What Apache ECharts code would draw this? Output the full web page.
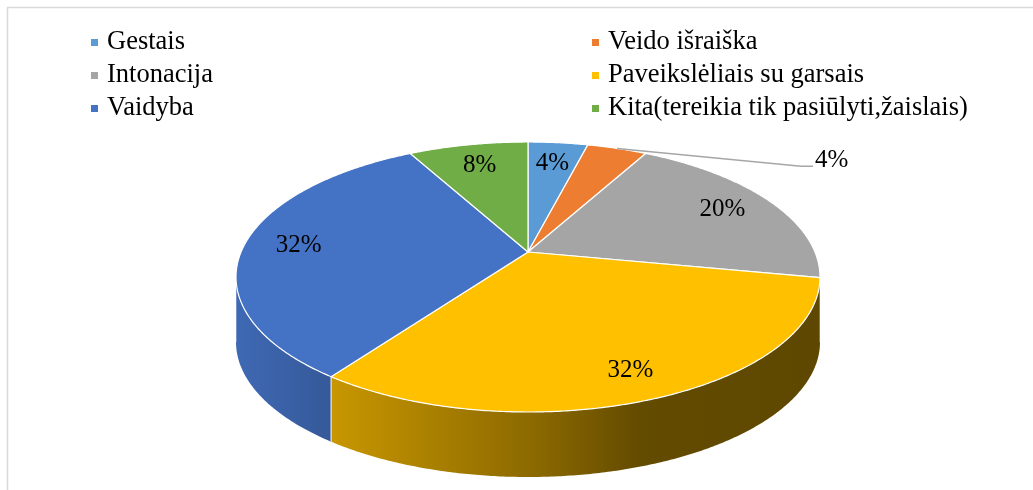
<!DOCTYPE html>
<html>
<head>
<meta charset="utf-8">
<script src="https://cdn.jsdelivr.net/npm/echarts@6/dist/echarts.min.js"></script>
<style>
  html, body { margin: 0; padding: 0; background: #fff; }
  #c { width: 1033px; height: 490px; }
</style>
</head>
<body>
<div id="c"></div>
<script>
const categories = ['Gestais', 'Veido išraiška', 'Intonacija', 'Paveikslėliais su garsais', 'Vaidyba', 'Kita(tereikia tik pasiūlyti,žaislais)']
const values = [4, 4, 20, 32, 32, 8]
const colors = ['#5B9BD5', '#ED7D31', '#A5A5A5', '#FFC000', '#4472C4', '#70AD47']
const outsideLabel = [false, true, false, false, false, false]

// layout of the fake 3d pie (ellipse top face + front wall)
const P = { cx: 528, cy: 277, rx: 292, ry: 135, apexDy: -25, tilt: 0.46, depth: 65, labelR: 0.81 }
const FONT = '25px "Liberation Serif", "Times New Roman", serif'
// side lighting: [offset across pie width, brightness]
const wallLight = [[0, 0.92], [0.166, 0.78], [0.52, 0.54], [0.69, 0.39], [1, 0.37]]

const total = values.reduce((a, b) => a + b, 0)
const cum = values.map((v, i) => values.slice(0, i).reduce((a, b) => a + b, 0))

// ray from the apex at pie angle theta, hit the ellipse rim
function edgePoint(theta) {
  const dx = Math.sin(theta)
  const dy = -Math.cos(theta) * P.tilt
  const py = P.apexDy
  const A = (dx / P.rx) ** 2 + (dy / P.ry) ** 2
  const B = 2 * py * dy / (P.ry * P.ry)
  const C = (py / P.ry) ** 2 - 1
  const s = (-B + Math.sqrt(B * B - 4 * A * C)) / (2 * A)
  return [P.cx + dx * s, P.cy + py + dy * s]
}
function innerPoint(theta, r) {
  const e = edgePoint(theta)
  const ax = P.cx, ay = P.cy + P.apexDy
  return [ax + (e[0] - ax) * r, ay + (e[1] - ay) * r]
}
function shade(hex, f) {
  const n = parseInt(hex.slice(1), 16)
  const r = Math.round(((n >> 16) & 255) * f)
  const g = Math.round(((n >> 8) & 255) * f)
  const b = Math.round((n & 255) * f)
  return `rgb(${r},${g},${b})`
}

function makeSeries(i) {
  return {
    type: 'custom',
    name: categories[i],
    coordinateSystem: 'none',
    itemStyle: { color: colors[i] },
    data: [values[i]],
    renderItem(params, api) {
      const v = api.value(0)
      const start = cum[i] / total * Math.PI * 2
      const end = (cum[i] + v) / total * Math.PI * 2
      const n = Math.max(2, Math.ceil((end - start) / (Math.PI / 360)))
      const arc = []
      for (let k = 0; k <= n; k++) arc.push(edgePoint(start + (end - start) * k / n))
      const apex = [P.cx, P.cy + P.apexDy]
      const children = []

      // front wall
      const front = arc.filter(p => p[1] >= P.cy - 0.3)
      if (front.length > 1) {
        const poly = front.concat(front.slice().reverse().map(p => [p[0], p[1] + P.depth]))
        children.push({
          type: 'polygon',
          z2: 1,
          shape: { points: poly },
          style: {
            fill: {
              type: 'linear', x: P.cx - P.rx, y: 0, x2: P.cx + P.rx, y2: 0, global: true,
              colorStops: wallLight.map(s => ({ offset: s[0], color: shade(colors[i], s[1]) })),
            },
          },
        })
        ;[front[0], front[front.length - 1]].forEach((p) => {
          children.push({
            type: 'line',
            z2: 2,
            shape: { x1: p[0], y1: p[1], x2: p[0], y2: p[1] + P.depth },
            style: { stroke: 'rgba(255,255,255,0.55)', lineWidth: 1 },
          })
        })
      }

      // top face
      children.push({
        type: 'polygon',
        z2: 5,
        shape: { points: [apex].concat(arc) },
        style: { fill: colors[i], stroke: '#fff', lineWidth: 1.2 },
      })

      // label
      const mid = (start + end) / 2
      const txt = Math.round(v / total * 100) + '%'
      if (outsideLabel[i]) {
        const p0 = edgePoint(mid)
        const elbow = [P.cx + P.rx * 0.935, P.cy - P.ry * 0.82]
        const p2 = [elbow[0] + 12, elbow[1]]
        children.push({
          type: 'polyline',
          z2: 50,
          shape: { points: [p0, elbow, p2] },
          style: { stroke: '#a6a6a6', lineWidth: 1.5, fill: null },
        })
        children.push({
          type: 'text',
          z2: 100,
          style: { text: txt, x: p2[0] + 2, y: p2[1] - 6, fill: '#000', font: FONT, align: 'left', verticalAlign: 'middle' },
        })
      } else {
        const lp = innerPoint(mid, P.labelR)
        children.push({
          type: 'text',
          z2: 100,
          style: { text: txt, x: lp[0], y: lp[1], fill: '#000', font: FONT, align: 'center', verticalAlign: 'middle' },
        })
      }
      return { type: 'group', children }
    },
  }
}

const legendCommon = {
  orient: 'vertical',
  top: 29,
  padding: 0,
  icon: 'rect',
  itemWidth: 7,
  itemHeight: 7,
  itemGap: 6,
  selectedMode: false,
  textStyle: { fontFamily: '"Liberation Serif", "Times New Roman", serif', fontSize: 26.5, color: '#000', lineHeight: 26, padding: [0, 0, 0, 4] },
}

const chart = echarts.init(document.getElementById('c'))
chart.setOption({
  animation: false,
  color: colors,
  graphic: [{
    type: 'rect',
    shape: { x: 7.5, y: 7.5, width: 1040, height: 500 },
    style: { fill: null, stroke: '#d9d9d9', lineWidth: 1.5 },
    silent: true,
  }],
  legend: [
    Object.assign({}, legendCommon, { left: 91, data: [categories[0], categories[2], categories[4]] }),
    Object.assign({}, legendCommon, { left: 592, data: [categories[1], categories[3], categories[5]] }),
  ],
  series: values.map((v, i) => makeSeries(i)),
})
</script>
</body>
</html>
